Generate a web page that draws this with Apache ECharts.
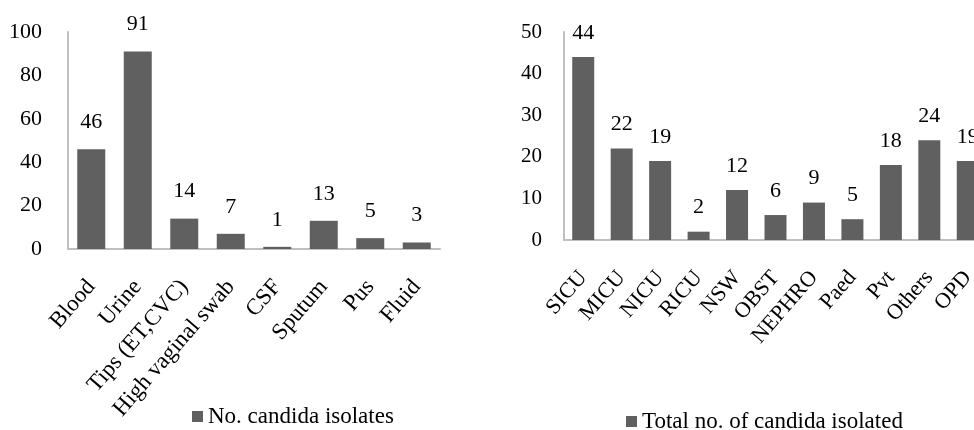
<!DOCTYPE html>
<html>
<head>
<meta charset="utf-8">
<script src="https://cdn.jsdelivr.net/npm/echarts@6/dist/echarts.min.js"></script>
<style>
  html, body { margin: 0; padding: 0; background: #fff; overflow: hidden; }
  #main { width: 1000px; height: 430px; }
</style>
</head>
<body>
<div id="main"></div>
<script>
// left chart: specimens
var specimenNames = ['Blood', 'Urine', 'Tips (ET,CVC)', 'High vaginal swab', 'CSF', 'Sputum', 'Pus', 'Fluid'];
var specimenCounts = [46, 91, 14, 7, 1, 13, 5, 3];
var leftTicks = [0, 20, 40, 60, 80, 100];

// right chart: wards (cut off at the right edge, as in the original)
var wardNames = ['SICU', 'MICU', 'NICU', 'RICU', 'NSW', 'OBST', 'NEPHRO', 'Paed', 'Pvt', 'Others', 'OPD'];
var wardCounts = [44, 22, 19, 2, 12, 6, 9, 5, 18, 24, 19];
var rightTicks = [0, 10, 20, 30, 40, 50];

var leftName = 'No. candida isolates';
var rightName = 'Total no. of candida isolated';

var font = '"Liberation Serif", "Times New Roman", serif';
var barColor = '#606060';
var axisColor = '#bfbfbf';

function xAxisOf(idx, cats, size) {
    return {
        type: 'category',
        gridIndex: idx,
        data: cats,
        axisLine: { show: true, lineStyle: { color: axisColor, width: 2 } },
        axisTick: { show: false },
        axisLabel: {
            rotate: 49,
            interval: 0,
            margin: 34,
            color: '#000',
            fontFamily: font,
            fontSize: size
        }
    };
}

function yAxisOf(idx, ticks, size, margin) {
    return {
        type: 'value',
        gridIndex: idx,
        min: ticks[0],
        max: ticks[ticks.length - 1],
        interval: ticks[1] - ticks[0],
        axisLine: { show: true, lineStyle: { color: axisColor, width: 2 } },
        axisTick: { show: false },
        splitLine: { show: false },
        axisLabel: {
            margin: margin,
            color: '#000',
            fontFamily: font,
            fontSize: size
        }
    };
}

function barOf(name, idx, data, width, size, dist) {
    return {
        name: name,
        type: 'bar',
        xAxisIndex: idx,
        yAxisIndex: idx,
        data: data,
        barWidth: width,
        itemStyle: { color: barColor },
        label: {
            show: true,
            position: 'top',
            distance: dist,
            color: '#000',
            fontFamily: font,
            fontSize: size
        }
    };
}

var chart = echarts.init(document.getElementById('main'));
chart.setOption({
    animation: false,
    backgroundColor: '#fff',
    grid: [
        { left: 68, top: 32, width: 372, height: 217 },
        { left: 564, top: 32, width: 423, height: 208 }
    ],
    xAxis: [xAxisOf(0, specimenNames, 23), xAxisOf(1, wardNames, 22)],
    yAxis: [yAxisOf(0, leftTicks, 22, 26), yAxisOf(1, rightTicks, 21, 22)],
    legend: [
        {
            data: [leftName],
            left: 187,
            top: 400,
            icon: 'rect',
            itemWidth: 11,
            itemHeight: 11,
            itemGap: 3,
            textStyle: { fontFamily: font, fontSize: 23, color: '#000' }
        },
        {
            data: [rightName],
            left: 621,
            top: 405,
            icon: 'rect',
            itemWidth: 11,
            itemHeight: 11,
            itemGap: 3,
            textStyle: { fontFamily: font, fontSize: 23, color: '#000' }
        }
    ],
    series: [
        barOf(leftName, 0, specimenCounts, 28, 22, 16),
        barOf(rightName, 1, wardCounts, 22, 22, 13)
    ]
});
</script>
</body>
</html>
